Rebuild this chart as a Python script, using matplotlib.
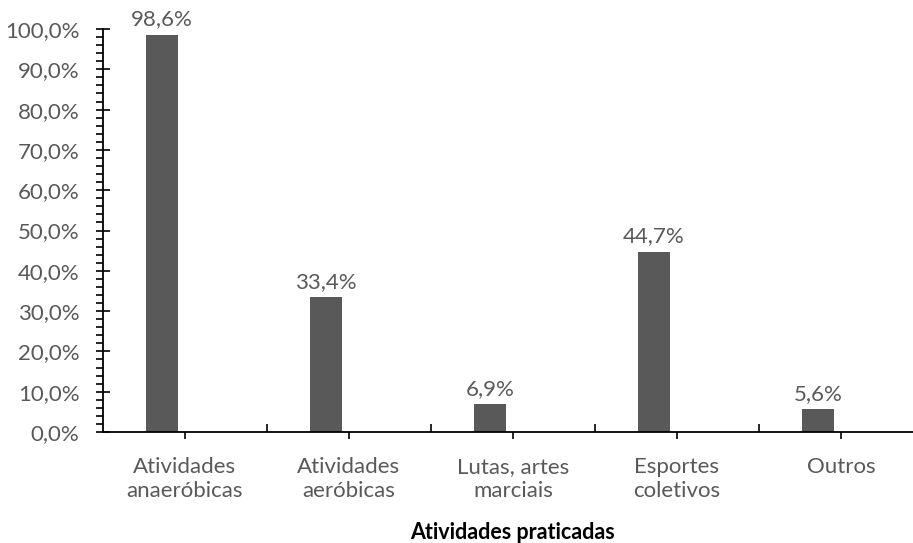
import matplotlib.pyplot as plt
import numpy as np
from matplotlib.ticker import FixedLocator, FuncFormatter, MultipleLocator

BAR = "#595959"
TEXT = "#595959"

categories = ["Atividades\nanaeróbicas", "Atividades\naeróbicas", "Lutas, artes\nmarciais",
              "Esportes\ncoletivos", "Outros"]
values = [98.6, 33.4, 6.9, 44.7, 5.6]
labels = ["98,6%", "33,4%", "6,9%", "44,7%", "5,6%"]

plt.rcParams["font.family"] = ["Lato", "DejaVu Sans"]

fig = plt.figure(figsize=(9.13, 5.43), dpi=100)
ax = fig.add_axes([0.1128, 0.2044, 0.898, 0.7422])

x = np.arange(len(categories))
offset = -0.14
bars = ax.bar(x + offset, values, width=0.195, color=BAR, zorder=2)
for b, lab in zip(bars, labels):
    ax.annotate(lab, (b.get_x() + b.get_width() / 2, b.get_height()),
                xytext=(0, 4), textcoords="offset points",
                ha="center", va="bottom", fontsize=16, color=TEXT)

ax.set_xlim(-0.5, len(categories) - 0.5)
ax.set_ylim(0, 100)
ax.spines["top"].set_visible(False)
ax.spines["right"].set_visible(False)
for s in ("left", "bottom"):
    ax.spines[s].set_linewidth(1.3)
    ax.spines[s].set_color("black")

ax.yaxis.set_major_locator(MultipleLocator(10))
ax.yaxis.set_minor_locator(MultipleLocator(2))
ax.yaxis.set_major_formatter(FuncFormatter(lambda v, p: f"{v:.1f}%".replace(".", ",")))
ax.tick_params(axis="y", which="major", direction="inout", length=10, width=1.2,
               labelsize=16, labelcolor=TEXT, pad=12)
ax.tick_params(axis="y", which="minor", direction="out", length=5, width=1.2)

ax.set_xticks(x)
ax.set_xticklabels(categories, fontsize=16, color=TEXT, linespacing=1.25)
ax.xaxis.set_minor_locator(FixedLocator(x[:-1] + 0.5))
ax.tick_params(axis="x", which="major", direction="out", length=5, width=1.2, pad=13)
ax.tick_params(axis="x", which="minor", direction="in", length=6, width=1.2)

ax.set_xlabel("Atividades praticadas", fontsize=15.5, fontweight="bold", color="black",
              va="center")
# centre the axis title under the visible categories
ax.xaxis.set_label_coords(0.5, -0.25)

fig.savefig("out.png", dpi=100)
